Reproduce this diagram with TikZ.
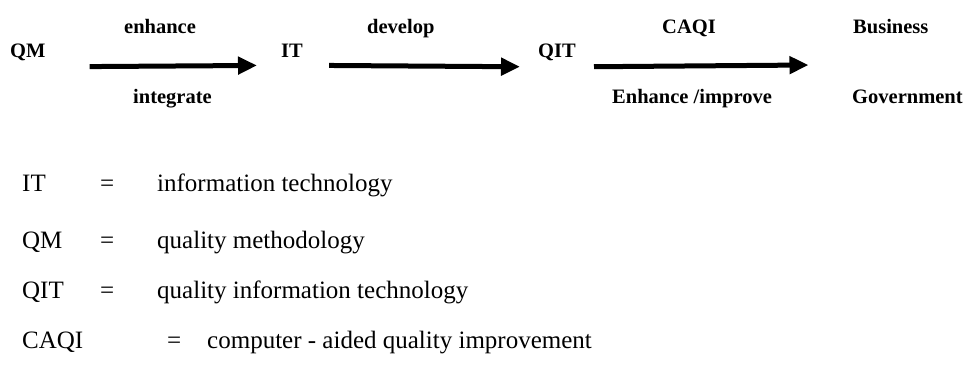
\documentclass[tikz,border=0pt]{standalone}
\usepackage{fontspec}
\setmainfont{Liberation Serif}
\usetikzlibrary{calc,arrows.meta}

\begin{document}
\begin{tikzpicture}[
  x=1pt, y=1pt,
  %% Flow terms and arrow labels — bold
  term/.style={
    anchor=base west, inner sep=0pt,
    font=\fontsize{20.5}{24}\selectfont\bfseries
  },
  %% Legend lines — plain
  leg/.style={
    anchor=base west, inner sep=0pt,
    font=\fontsize{25}{30}\selectfont
  },
  arr/.style={-{Triangle[length=19pt,width=17pt]}, line width=5pt, black}
]
\useasboundingbox (0,0) rectangle (969,-367);

%% ── Flow row ─────────────────────────────────────────────────
\node[term] (qm)  at ( 10,-57) {QM};
\node[term] (it)  at (281,-57) {IT};
\node[term] (qit) at (538,-57) {QIT};
\node[term] (biz) at (853,-33) {Business};
\node[term] (gov) at (852,-103) {Government};
\coordinate (tgt) at ($(biz.west)!0.5!(gov.west)$);

%% ── Arrow labels ─────────────────────────────────────────────
\node[term] (l1a) at (124,-33) {enhance};
\node[term] (l1b) at (133,-103) {integrate};
\node[term] (l2a) at (367,-33) {develop};
\node[term] (l3a) at (662,-33) {CAQI};
\node[term] (l3b) at (612,-103) {Enhance /improve};

%% ── Arrows ───────────────────────────────────────────────────
\draw[arr, shorten <=44pt, shorten >=24pt]
  ([yshift=-15pt]qm.east) -- ([yshift=-15pt]it.west);
\draw[arr, shorten <=26pt, shorten >=18pt]
  ([yshift=-15pt]it.east) -- ([yshift=-15pt]qit.west);
\draw[arr, shorten <=18pt]
  ([yshift=-15pt]qit.east) -- ([xshift=-44pt]tgt |- 0,-65);

%% ── Legend ───────────────────────────────────────────────────
\node[leg] (k1) at ( 22,-191) {IT};
\node[leg] (e1) at (100,-191) {=};
\node[leg] (d1) at (157,-191) {information technology};

\node[leg] (k2) at ( 22,-248) {QM};
\node[leg] (e2) at (100,-248) {=};
\node[leg] (d2) at (157,-248) {quality methodology};

\node[leg] (k3) at ( 22,-298) {QIT};
\node[leg] (e3) at (100,-298) {=};
\node[leg] (d3) at (157,-298) {quality information technology};

\node[leg] (k4) at ( 22,-348) {CAQI};
\node[leg] (e4) at (167,-348) {=};
\node[leg] (d4) at (207,-348) {computer - aided quality improvement};

\end{tikzpicture}
\end{document}
